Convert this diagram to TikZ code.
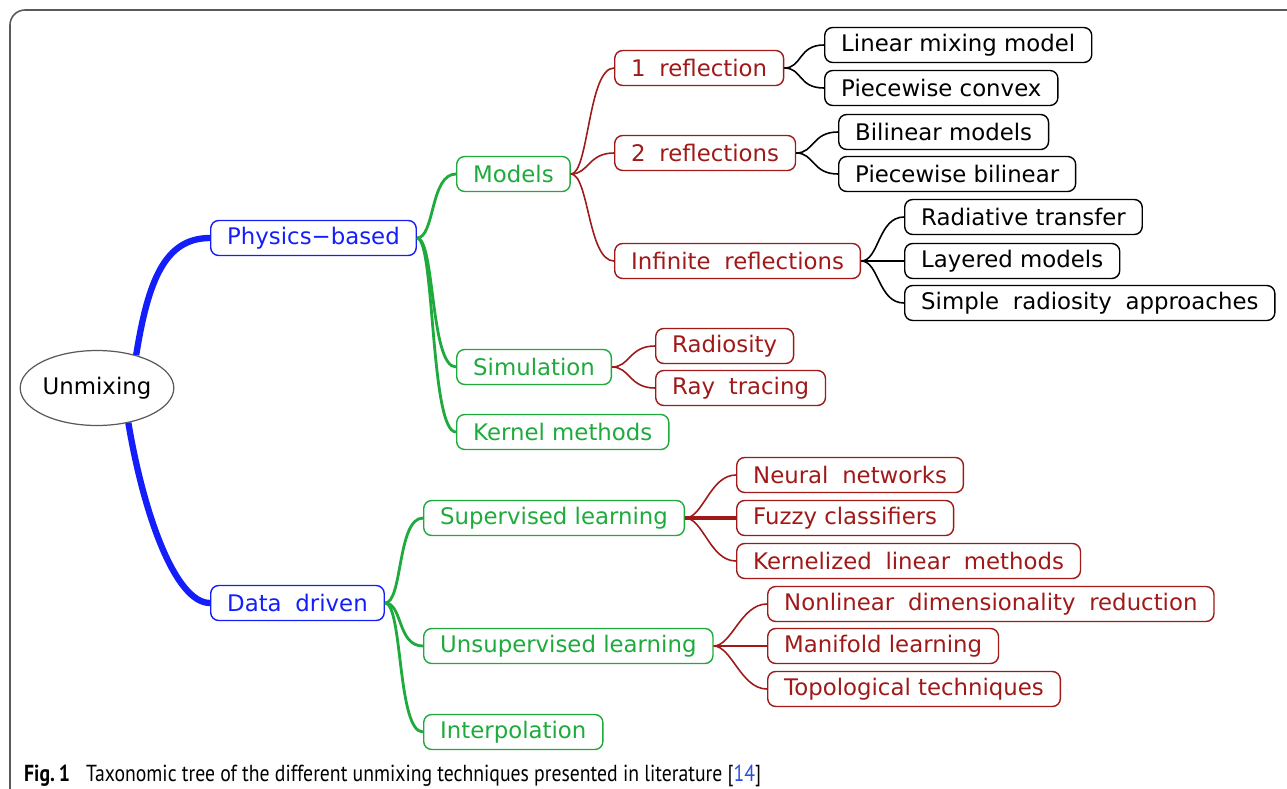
\documentclass[tikz,border=0pt]{standalone}
\usepackage{fontspec}
\setmainfont{DejaVu Sans}
\newfontfamily\capfont[FakeStretch=0.85]{PT Sans}
\usetikzlibrary{shapes.geometric}
\definecolor{mmblue}{RGB}{20,30,250}
\definecolor{mmgreen}{RGB}{30,170,60}
\definecolor{mmred}{RGB}{160,25,25}
\definecolor{mmgray}{RGB}{90,90,90}
\definecolor{mmlink}{RGB}{40,80,220}
\newcommand{\wsp}{\hspace{0.6em}}
\tikzstyle{l0} = [ellipse, draw=mmgray, line width=0.7pt, inner sep=0pt, minimum width=2.95cm, minimum height=1.5cm, font=\fontsize{13}{15}\selectfont]
\tikzstyle{box} = [rectangle, rounded corners=0.16cm, line width=0.8pt, minimum height=0.7cm, inner xsep=0.33cm, anchor=west, font=\fontsize{13}{15}\selectfont]
\tikzstyle{l1} = [box, draw=mmblue, text=mmblue]
\tikzstyle{l2} = [box, draw=mmgreen, text=mmgreen]
\tikzstyle{l3} = [box, draw=mmred, text=mmred]
\tikzstyle{l4} = [box, draw=black, text=black]
\tikzstyle{link} = [to path={(\tikztostart) .. controls +(18,0) and +(-26,0) .. (\tikztotarget)}]
\tikzstyle{e1} = [draw=mmblue, line width=3.6pt]
\tikzstyle{e2} = [link, draw=mmgreen, line width=1.6pt]
\tikzstyle{e3} = [link, draw=mmred, line width=0.9pt]
\tikzstyle{e4} = [link, draw=black, line width=0.9pt]

\begin{document}
\begin{tikzpicture}[x=0.02cm, y=-0.02cm]
\useasboundingbox (0,0) rectangle (1287,788);
\clip (0,0) rectangle (1287,788);
\draw[mmgray, line width=0.9pt, rounded corners=0.3cm] (10,10) rectangle (1330,830);

% root and first level
\node (U) [l0] at (97,388) {Unmixing};
\node (PB) [l1] at (210,238) {Physics−based};
\node (DD) [l1] at (210,603) {Data\wsp driven};
\draw[e1] (U.40) .. controls +(12,-75) and +(-45,0) .. (PB.west);
\draw[e1] (U.-48) .. controls +(15,90) and +(-35,0) .. (DD.west);

% physics-based
\node (MO) [l2] at (456,174) {Models};
\node (SI) [l2] at (456,367) {Simulation};
\node (KM) [l2] at (456,432) {Kernel methods};
\path (PB.east) edge[e2] (MO.west)
      (PB.east) edge[e2] (SI.west)
      (PB.east) edge[e2] (KM.west);

\node (R1) [l3] at (614,68) {1\wsp reflection};
\node (R2) [l3] at (614,153) {2\wsp reflections};
\node (RI) [l3] at (614,261) {Infinite\wsp reflections};
\path (MO.east) edge[e3] (R1.west)
      (MO.east) edge[e3] (R2.west)
      (MO.east) edge[e3] (RI.west);

\node (LM) [l4] at (824,45) {Linear mixing model};
\node (PC) [l4] at (824,88) {Piecewise convex};
\node (BM) [l4] at (838,132) {Bilinear models};
\node (PL) [l4] at (838,174) {Piecewise bilinear};
\node (RT) [l4] at (904,217) {Radiative transfer};
\node (LY) [l4] at (904,261) {Layered models};
\node (SR) [l4] at (904,303) {Simple\wsp radiosity\wsp approaches};
\path (R1.east) edge[e4] (LM.west)
      (R1.east) edge[e4] (PC.west)
      (R2.east) edge[e4] (BM.west)
      (R2.east) edge[e4] (PL.west)
      (RI.east) edge[e4] (RT.west)
      (RI.east) edge[e4] (LY.west)
      (RI.east) edge[e4] (SR.west);

\node (RA) [l3] at (655,346) {Radiosity};
\node (RY) [l3] at (655,388) {Ray\wsp tracing};
\path (SI.east) edge[e3] (RA.west)
      (SI.east) edge[e3] (RY.west);

% data driven
\node (SL) [l2] at (423,518) {Supervised learning};
\node (UL) [l2] at (423,646) {Unsupervised learning};
\node (IP) [l2] at (423,732) {Interpolation};
\path (DD.east) edge[e2] (SL.west)
      (DD.east) edge[e2] (UL.west)
      (DD.east) edge[e2] (IP.west);

\node (NN) [l3] at (736,475) {Neural\wsp networks};
\node (FC) [l3] at (736,518) {Fuzzy classifiers};
\node (KL) [l3] at (736,561) {Kernelized\wsp linear\wsp methods};
\path (SL.east) edge[e3] (NN.west)
      (SL.east) edge[e3, line width=2pt] (FC.west)
      (SL.east) edge[e3] (KL.west);

\node (ND) [l3] at (767,604) {Nonlinear\wsp dimensionality\wsp reduction};
\node (ML) [l3] at (767,646) {Manifold learning};
\node (TT) [l3] at (767,689) {Topological techniques};
\path (UL.east) edge[e3] (ND.west)
      (UL.east) edge[e3, line width=1.3pt] (ML.west)
      (UL.east) edge[e3] (TT.west);

% caption
\node (CAP) [anchor=base west, font=\capfont\fontsize{13.2}{15}\selectfont] at (18,781) {\textbf{Fig.\,1}\hspace{0.7em}Taxonomic tree of the different unmixing techniques presented in literature [\textcolor{mmlink}{14}]};
\end{tikzpicture}
\end{document}
